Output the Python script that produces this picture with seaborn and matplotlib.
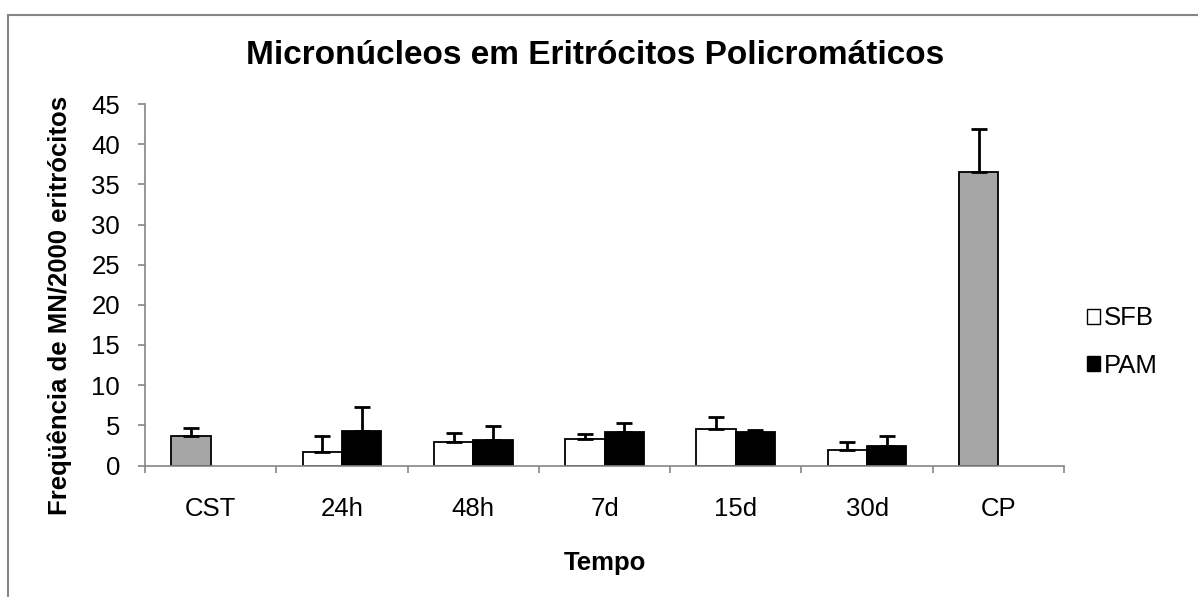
import numpy as np
import pandas as pd
import seaborn as sns
import matplotlib.pyplot as plt
from matplotlib.patches import Patch, Rectangle

sns.set_style('white')
plt.rcParams['font.family'] = ['Liberation Sans', 'DejaVu Sans']
plt.rcParams['text.color'] = 'black'
plt.rcParams['axes.labelcolor'] = 'black'
plt.rcParams['xtick.labelcolor'] = 'black'
plt.rcParams['ytick.labelcolor'] = 'black'

# dados
tempos = ['CST', '24h', '48h', '7d', '15d', '30d', 'CP']
sfb = [3.65, 1.66, 2.96, 3.28, 4.57, 1.91, 36.57]
sfb_err = [1.0, 2.05, 1.03, 0.6, 1.5, 1.05, 5.3]
pam = [np.nan, 4.28, 3.16, 4.15, 4.15, 2.46, np.nan]
pam_err = [np.nan, 2.95, 1.7, 1.17, 0.3, 1.2, np.nan]
controles = ['CST', 'CP']

df = pd.DataFrame({
    'Tempo': tempos * 2,
    'grupo': ['SFB'] * len(tempos) + ['PAM'] * len(tempos),
    'valor': sfb + pam,
    'erro': sfb_err + pam_err,
})

fig = plt.figure(figsize=(11.98, 5.97), dpi=100)
ax = fig.add_axes([145 / 1198, 1 - 465.5 / 597, (1064 - 145) / 1198, (465.5 - 104) / 597])

sns.barplot(data=df, x='Tempo', y='valor', hue='grupo', order=tempos,
            hue_order=['SFB', 'PAM'], palette={'SFB': 'white', 'PAM': 'black'},
            width=0.6, errorbar=None, edgecolor='black', linewidth=1.3,
            legend=False, ax=ax)

# barras de erro (só para cima) e cor cinza dos controles
for cont, nome in zip(ax.containers, ['SFB', 'PAM']):
    sub = df[df['grupo'] == nome].dropna(subset=['valor'])
    for bar, (_, row) in zip(cont, sub.iterrows()):
        cx = bar.get_x() + bar.get_width() / 2
        h = bar.get_height()
        if row['Tempo'] in controles:
            bar.set_facecolor('#a6a6a6')
        ax.errorbar(cx, h, yerr=[[0], [row['erro']]], fmt='none', ecolor='black',
                    elinewidth=2, capsize=6, capthick=2, zorder=1)

ax.set_ylim(0, 45)
ax.set_yticks(range(0, 46, 5))
ax.set_xlim(-0.5, 6.5)
ax.set_xticks(np.arange(-0.5, 7, 1), minor=False)
ax.set_xticks(range(7), minor=True)
ax.set_xticklabels([])
ax.set_xticklabels(tempos, minor=True)
ax.tick_params(axis='x', which='major', length=5, width=1.2, color='#868686')
ax.tick_params(axis='x', which='minor', length=0, pad=23, labelsize=18.5)
ax.tick_params(axis='y', length=5, width=1.2, color='#868686', pad=13, labelsize=18.5)
ax.tick_params(axis='both', left=True, bottom=True)

for s in ['top', 'right']:
    ax.spines[s].set_visible(False)
for s in ['left', 'bottom']:
    ax.spines[s].set_color('#868686')
    ax.spines[s].set_linewidth(1.2)

ax.set_xlabel('Tempo', fontsize=18.5, fontweight='bold', labelpad=21)
ax.set_ylabel('Freqüência de MN/2000 eritrócitos', fontsize=18.5, fontweight='bold')
ax.yaxis.set_label_coords(-0.079, 0.444)
fig.text(595 / 1198, 1 - 55 / 597, 'Micronúcleos em Eritrócitos Policromáticos',
         ha='center', va='center', fontsize=24, fontweight='bold')

handles = [Patch(facecolor='white', edgecolor='black', linewidth=1),
           Patch(facecolor='black', edgecolor='black', linewidth=1)]
fig.legend(handles, ['SFB', 'PAM'], loc='center left', bbox_to_anchor=(1064 / 1198, 1 - 342 / 597),
           frameon=False, fontsize=18.5, handlelength=0.5, handleheight=0.5,
           handletextpad=0.15, labelspacing=0.9)

# moldura cinza da área do gráfico
fig.patches.append(Rectangle((8 / 1198, -0.1), 1.2, 1 - 15 / 597 + 0.1, transform=fig.transFigure,
                             fill=False, edgecolor='#868686', linewidth=1.5))

fig.savefig('out.png', dpi=100)
